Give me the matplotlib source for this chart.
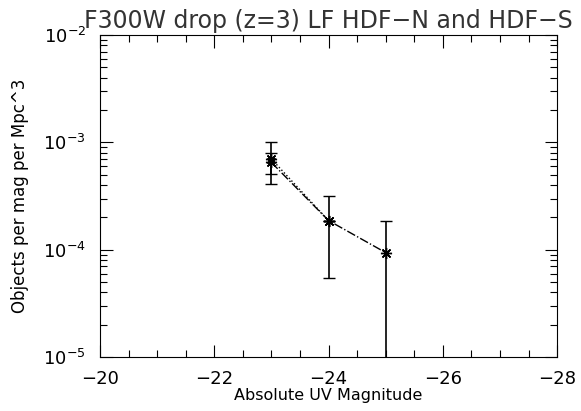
import numpy as np
import matplotlib
matplotlib.use('Agg')
import matplotlib.pyplot as plt
from matplotlib.ticker import MultipleLocator, LogLocator

plt.rcParams['font.family'] = ['DejaVu Sans']
plt.rcParams['mathtext.fontset'] = 'dejavusans'

# HDF-N + HDF-S, F300W dropouts
mag_a = [-23.0, -24.0]
lf_a = [7.0e-4, 1.87e-4]
lo_a = [4.1e-4, 1.87e-4]
hi_a = [1.0e-3, 1.87e-4]

mag_b = [-23.0, -24.0, -25.0]
lf_b = [6.5e-4, 1.87e-4, 9.4e-5]
lo_b = [5.1e-4, 5.5e-5, 1.0e-6]
hi_b = [8.0e-4, 3.16e-4, 1.87e-4]


def main():
    fig = plt.figure(figsize=(5.81, 4.11), dpi=100)
    ax = fig.add_axes([0.172, 0.131, 0.787, 0.784])

    ya = np.array(lf_a)
    yb = np.array(lf_b)
    err_a = [ya - np.array(lo_a), np.array(hi_a) - ya]
    err_b = [yb - np.array(lo_b), np.array(hi_b) - yb]

    ax.errorbar(mag_a, lf_a, yerr=err_a, fmt='none', ecolor='black',
                elinewidth=1.2, capsize=4, capthick=1)
    ax.errorbar(mag_b, lf_b, yerr=err_b, fmt='none', ecolor='black',
                elinewidth=1.2, capsize=4, capthick=1)
    ax.plot(mag_a, lf_a, ls=':', color='black', lw=1,
            marker=(8, 2, 0), ms=8, mew=1)
    ax.plot(mag_b, lf_b, ls='-.', color='black', lw=1,
            marker=(8, 2, 0), ms=8, mew=1)

    ax.set_yscale('log')
    ax.set_xlim(-20, -28)
    ax.set_ylim(1e-5, 1e-2)
    ax.xaxis.set_major_locator(MultipleLocator(2))
    ax.xaxis.set_minor_locator(MultipleLocator(0.5))
    ax.yaxis.set_major_locator(LogLocator(base=10))
    ax.yaxis.set_minor_locator(LogLocator(base=10, subs=np.arange(2, 10)))

    ax.tick_params(which='both', direction='in', top=True, right=True,
                   color='black', width=0.8)
    ax.tick_params(which='major', length=9, labelsize=13)
    ax.tick_params(axis='x', which='major', pad=9)
    ax.tick_params(axis='y', which='major', pad=10)
    ax.tick_params(which='minor', length=5)
    for s in ax.spines.values():
        s.set_linewidth(0.8)

    ax.set_title("F300W drop (z=3) LF HDF\u2212N and HDF\u2212S",
                 fontsize=17, pad=5, color='#333333')
    ax.set_xlabel("Absolute UV Magnitude", fontsize=11.5, labelpad=0)
    ax.set_ylabel("Objects per mag per Mpc^3", fontsize=12, labelpad=10)

    fig.savefig('out.png', dpi=100)


if __name__ == '__main__':
    main()
